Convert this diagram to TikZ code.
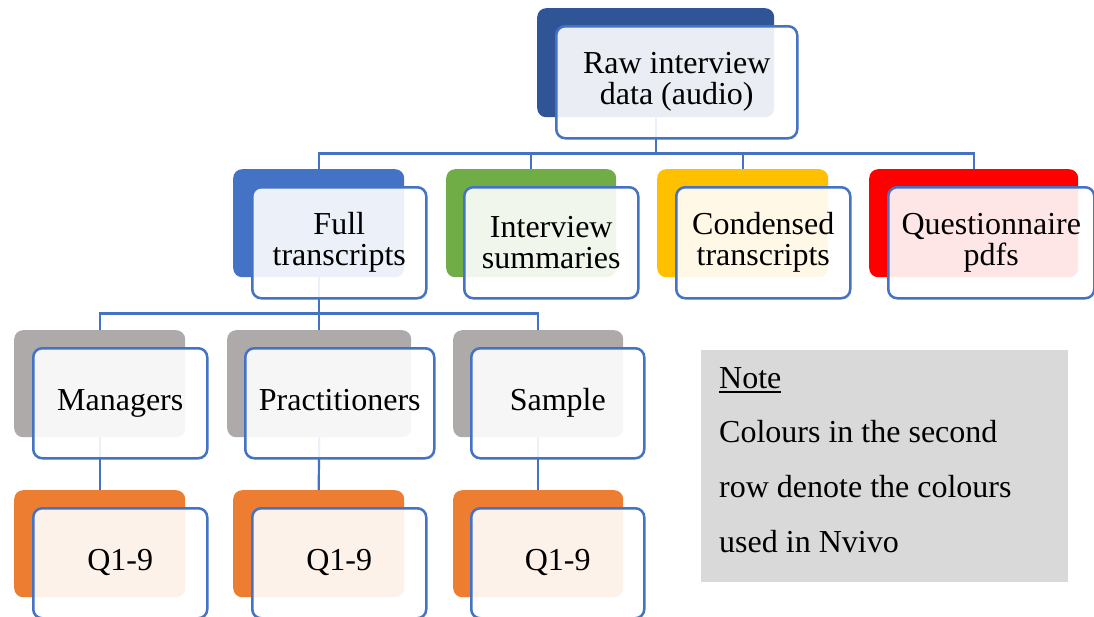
\documentclass[tikz,border=0pt]{standalone}
\usepackage{fontspec}
\setmainfont{Liberation Serif}
% underline with a set depth and thickness
\newcommand\noteul[1]{\setbox0=\hbox{#1}\rlap{\rule[-4.5pt]{\wd0}{1.8pt}}\box0}
\definecolor{lineblue}{HTML}{4472C4}
\definecolor{darkblue}{HTML}{2F5597}
\definecolor{midblue}{HTML}{4472C4}
\definecolor{leafgreen}{HTML}{70AD47}
\definecolor{gold}{HTML}{FFC000}
\definecolor{brightred}{HTML}{FF0000}
\definecolor{stone}{HTML}{AEAAAA}
\definecolor{tangerine}{HTML}{ED7D31}
\definecolor{notegray}{HTML}{D9D9D9}
\begin{document}
\begin{tikzpicture}[x=1pt,y=-1pt,
  backbox/.style={rounded corners=9pt, inner sep=0pt, anchor=north west, draw=none},
  frontbox/.style={draw=lineblue, line width=2.5pt, fill=white, fill opacity=0.9,
    text opacity=1, rounded corners=9pt, inner sep=0pt, anchor=north west,
    align=center, font=\fontsize{32}{31}\selectfont},
  oneline/.style={text height=22pt, text depth=7pt},
  conn/.style={draw=lineblue, line width=2.2pt},
  noteline/.style={anchor=base west, inner sep=0pt, font=\fontsize{32}{38}\selectfont}]
\clip (0,0) rectangle (1094,616);
\fill[white] (0,0) rectangle (1094,616);

% coloured back plates
\node[backbox, fill=darkblue, minimum width=237pt, minimum height=109pt] (b0) at (537,8) {};
\node[backbox, fill=midblue, minimum width=171pt, minimum height=108pt] (b1) at (233,169) {};
\node[backbox, fill=leafgreen, minimum width=170pt, minimum height=108pt] (b2) at (446,169) {};
\node[backbox, fill=gold, minimum width=171pt, minimum height=108pt] (b3) at (657,169) {};
\node[backbox, fill=brightred, minimum width=209pt, minimum height=108pt] (b4) at (869,169) {};
\node[backbox, fill=stone, minimum width=171pt, minimum height=107pt] (m1) at (14,330) {};
\node[backbox, fill=stone, minimum width=184pt, minimum height=107pt] (m2) at (227,330) {};
\node[backbox, fill=stone, minimum width=170pt, minimum height=107pt] (m3) at (453,330) {};
\node[backbox, fill=tangerine, minimum width=171pt, minimum height=107pt] (q1) at (14,490) {};
\node[backbox, fill=tangerine, minimum width=171pt, minimum height=107pt] (q2) at (233,490) {};
\node[backbox, fill=tangerine, minimum width=170pt, minimum height=107pt] (q3) at (453,490) {};

% connectors
\foreach \c in {b1,b2,b3,b4}
  \draw[conn] (b0.south) -- ++(0,36) -| (\c.north);
\foreach \c in {m1,m2,m3}
  \draw[conn] (b1.south) -- ++(0,36) -| (\c.north);
\draw[conn] (m1.south) -- (q1.north);
\draw[conn] (m2.south) -- (q2.north);
\draw[conn] (m3.south) -- (q3.north);

% translucent front cards
\node[frontbox, minimum width=241pt, minimum height=112pt] (f0) at (555,25) {Raw interview\\data (audio)};
\node[frontbox, minimum width=174pt, minimum height=111pt] (f1) at (251,186) {Full\\transcripts};
\node[frontbox, minimum width=174pt, minimum height=111pt] (f2) at (463,186) {Interview\\summaries};
\node[frontbox, minimum width=174pt, minimum height=111pt] (f3) at (675,186) {Condensed\\transcripts};
\node[frontbox, minimum width=206pt, minimum height=111pt] (f4) at (887,186) {Questionnaire\\pdfs};
\node[frontbox, oneline, minimum width=174pt, minimum height=110pt] (g1) at (32,347) {Managers};
\node[frontbox, oneline, minimum width=189pt, minimum height=110pt] (g2) at (244,347) {Practitioners};
\node[frontbox, oneline, minimum width=173pt, minimum height=110pt] (g3) at (470,347) {Sample};
\node[frontbox, oneline, minimum width=174pt, minimum height=110pt] (h1) at (32,507) {Q1-9};
\node[frontbox, oneline, minimum width=174pt, minimum height=110pt] (h2) at (251,507) {Q1-9};
\node[frontbox, oneline, minimum width=173pt, minimum height=110pt] (h3) at (470,507) {Q1-9};

% note panel
\node[anchor=north west, fill=notegray, inner sep=0pt, minimum width=367pt, minimum height=232pt] (notebox) at (701,350) {};
\node[noteline] (n1) at (719,388) {\noteul{Note}};
\node[noteline] (n2) at (719,442) {Colours in the second};
\node[noteline] (n3) at (719,497) {row denote the colours};
\node[noteline] (n4) at (719,552) {used in Nvivo};
\end{tikzpicture}
\end{document}
